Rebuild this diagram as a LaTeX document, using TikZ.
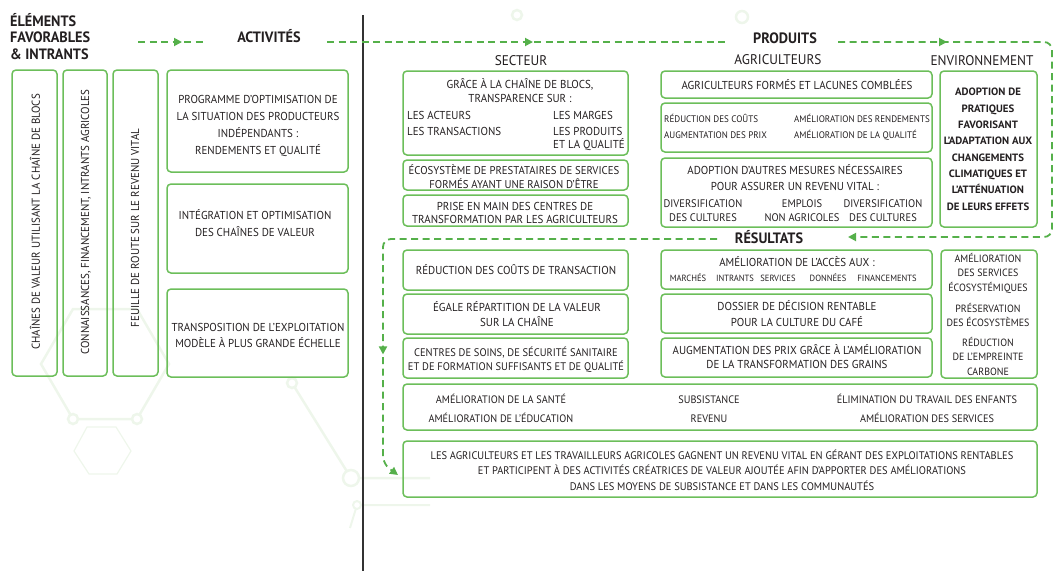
\documentclass[tikz,border=0pt]{standalone}
\usepackage{fontspec}
\setmainfont[FakeStretch=0.95]{PT Sans}
\newfontfamily\wfont[FakeStretch=1.02]{PT Sans}
\usetikzlibrary{arrows.meta,decorations.markings}
\definecolor{boxg}{HTML}{6CBE5A}
\definecolor{flowg}{HTML}{55B04A}
\definecolor{bgg}{HTML}{EEF6EB}
\definecolor{txt}{HTML}{231F20}
\definecolor{divc}{HTML}{333333}
\newcommand\bx[5]{\node[box,anchor=north west,minimum width={(#4-#2)*1pt},minimum height={(#5-#3)*1pt}] (#1) at (#2,#3) {};}
\tikzset{
  box/.style={draw=boxg, line width=1.5pt, rounded corners=4pt, inner sep=0pt, outer sep=0pt},
  fs/.style 2 args={font=\fontsize{#1}{#2}\selectfont},
  tx/.style={text=txt, align=center, inner sep=0pt, fs={11.5}{17}},
  hd/.style={text=txt, inner sep=0pt, font=\bfseries\fontsize{15}{16.5}\selectfont},
  subhd/.style={text=txt, inner sep=0pt, fs={14}{16}},
  flow/.style={color=flowg, line width=1.8pt, dash pattern=on 7pt off 4.5pt, rounded corners=8pt},
  midarr/.style={postaction={decorate}, decoration={markings, mark=at position #1 with {\arrow{Triangle[width=8pt,length=8pt]}}}},
  deco/.style={draw=bgg, line width=2.5pt},
  ring/.style={draw=bgg, line width=2.5pt, fill=white},
}
\begin{document}
\begin{tikzpicture}[x=1pt,y=-1pt]
\useasboundingbox (0,0) rectangle (1053,571);
% faint background decoration
\draw[deco] (169,364) -- (137,419) -- (73,419) -- (41,364) -- (73,309) -- (137,309) -- cycle;
\draw[ring] (73,419) circle (5); \draw[ring] (137,419) circle (5);
\draw[draw=bgg, line width=1.2pt] (87,427) -- (116,427) -- (131,451) -- (117,474) -- (89,474) -- (74,451) -- cycle;
\draw[deco] (292,383) -- (351,478) -- (430,478);
\draw[ring] (292,383) circle (5); \draw[ring] (351,478) circle (8);
\draw[draw=bgg, line width=2pt] (350,528) -- (357,505) -- (430,505);
\draw[ring, line width=2pt] (357,505) circle (4);
\draw[ring] (517,15) circle (5); \draw[ring] (742,17) circle (6);

% divider
\draw[divc, line width=1.8pt] (363,15) -- (363,571);

% headers
\node[hd, anchor=base west, align=left] (elem) at (10,59) {ÉLÉMENTS\\FAVORABLES\\\& INTRANTS};
\node[hd, anchor=base] (act) at (269,42) {ACTIVITÉS};
\node[hd, anchor=base] (prod) at (785,43) {PRODUITS};
\node[hd, anchor=base] (res) at (769,243) {RÉSULTATS};
\node[subhd, anchor=base] (sect) at (521,65) {SECTEUR};
\node[subhd, anchor=base] (agri) at (778,64) {AGRICULTEURS};
\node[subhd, anchor=base] (envi) at (982,65) {ENVIRONNEMENT};

% flow lines
\coordinate (f1a) at (138,42); \coordinate (f1b) at (207,42);
\coordinate (f2a) at (327,42); \coordinate (f2b) at (728,42);
\coordinate (f3a) at (838,42); \coordinate (f3c1) at (1052,42); \coordinate (f3c2) at (1052,237); \coordinate (f3b) at (848,237);
\coordinate (f4a) at (717,239); \coordinate (f4c1) at (383,239); \coordinate (f4c2) at (383,464); \coordinate (f4b) at (398,475);
\draw[flow, midarr=44pt] (f1a) -- (f1b);
\draw[flow, midarr=206pt] (f2a) -- (f2b);
\draw[flow, midarr=109pt, -{Triangle[width=8pt,length=8pt]}] (f3a) -- (f3c1) -- (f3c2) -- (f3b);
\draw[flow, midarr=446pt, -{Triangle[width=8pt,length=8pt]}] (f4a) -- (f4c1) -- (f4c2) -- (f4b);

% left column boxes
\bx{l1}{12}{70}{57}{376}
\bx{l2}{63}{70}{107}{376}
\bx{l3}{113}{70}{158}{376}
\node[tx, rotate=90] (l1t) at (35,222) {CHAÎNES DE VALEUR UTILISANT LA CHAÎNE DE BLOCS};
\node[tx, rotate=90] (l2t) at (86,222) {CONNAISSANCES, FINANCEMENT, INTRANTS AGRICOLES};
\node[tx, rotate=90] (l3t) at (135,228) {FEUILLE DE ROUTE SUR LE REVENU VITAL};

% activities
\bx{a1}{167}{70}{348}{172}
\bx{a2}{167}{184}{348}{273}
\bx{a3}{167}{289}{348}{377}
\node[tx, anchor=base] (a1t) at (258,154) {PROGRAMME D’OPTIMISATION DE\\LA SITUATION DES PRODUCTEURS\\INDÉPENDANTS :\\RENDEMENTS ET QUALITÉ};
\node[tx, anchor=base] (a2t) at (255,236) {INTÉGRATION ET OPTIMISATION\\DES CHAÎNES DE VALEUR};
\node[tx, anchor=base, fs={11.5}{16}] (a3t) at (258,347) {TRANSPOSITION DE L’EXPLOITATION\\MODÈLE À PLUS GRANDE ÉCHELLE};

% secteur
\bx{s1}{403}{71}{628}{155}
\bx{s2}{403}{160}{628}{190}
\bx{s3}{403}{195}{628}{226}
\node[tx, anchor=base, fs={11.5}{14}] (s1t) at (520,102) {GRÂCE À LA CHAÎNE DE BLOCS,\\TRANSPARENCE SUR :};
\node[tx, anchor=base west, align=left, fs={11.5}{16}] (s1a) at (407,135) {LES ACTEURS\\LES TRANSACTIONS};
\node[tx, anchor=base west, align=left, fs={11.5}{13}] (s1b) at (553,148) {LES MARGES\\[3pt]LES PRODUITS\\ET LA QUALITÉ};
\node[tx, anchor=base, fs={11.3}{14}] (s2t) at (514,188) {ÉCOSYSTÈME DE PRESTATAIRES DE SERVICES\\FORMÉS AYANT UNE RAISON D’ÊTRE};
\node[tx, anchor=base, fs={11.5}{13.5}] (s3t) at (515,223.5) {PRISE EN MAIN DES CENTRES DE\\TRANSFORMATION PAR LES AGRICULTEURS};

% agriculteurs
\bx{g1}{661}{71}{932}{98}
\bx{g2}{661}{103}{932}{152}
\bx{g3}{661}{158}{932}{227}
\node[tx, anchor=base] (g1t) at (797,89) {AGRICULTEURS FORMÉS ET LACUNES COMBLÉES};
\node[tx, anchor=base west, align=left, fs={9.5}{16}] (g2a) at (664,138) {RÉDUCTION DES COÛTS\\AUGMENTATION DES PRIX};
\node[tx, anchor=base west, align=left, fs={9.5}{16}] (g2b) at (794,138) {AMÉLIORATION DES RENDEMENTS\\AMÉLIORATION DE LA QUALITÉ};
\node[tx, anchor=base, fs={11.5}{16}] (g3t) at (795,190) {ADOPTION D’AUTRES MESURES NÉCESSAIRES\\POUR ASSURER UN REVENU VITAL :};
\node[tx, anchor=base, fs={11}{14}] (g3a) at (703,221) {DIVERSIFICATION\\DES CULTURES};
\node[tx, anchor=base, fs={11}{14}] (g3b) at (802,221) {EMPLOIS\\NON AGRICOLES};
\node[tx, anchor=base, fs={11}{14}] (g3c) at (883,221) {DIVERSIFICATION\\DES CULTURES};

% environnement
\bx{e1}{940}{71}{1037}{227}
\node[tx, anchor=base, font=\wfont\bfseries\fontsize{10.6}{16.3}\selectfont] (e1t) at (988,210) {ADOPTION DE\\PRATIQUES\\FAVORISANT\\L’ADAPTATION AUX\\CHANGEMENTS\\CLIMATIQUES ET\\L’ATTÉNUATION\\DE LEURS EFFETS};

% résultats - secteur
\bx{r1}{403}{250}{628}{290}
\bx{r2}{403}{294}{628}{334}
\bx{r3}{403}{338}{628}{378}
\node[tx, anchor=base] (r1t) at (516,274) {RÉDUCTION DES COÛTS DE TRANSACTION};
\node[tx, anchor=base, fs={11.5}{15}] (r2t) at (517,326) {ÉGALE RÉPARTITION DE LA VALEUR\\SUR LA CHAÎNE};
\node[tx, anchor=base, fs={11}{14}] (r3t) at (516,370) {CENTRES DE SOINS, DE SÉCURITÉ SANITAIRE\\ET DE FORMATION SUFFISANTS ET DE QUALITÉ};

% résultats - agriculteurs
\bx{m1}{661}{250}{932}{289}
\bx{m2}{661}{294}{932}{333}
\bx{m3}{661}{338}{932}{377}
\node[tx, anchor=base] (m1t) at (797,266) {AMÉLIORATION DE L’ACCÈS AUX :};
\node[tx, anchor=base, fs={9}{10}] (m1a) at (688,281) {MARCHÉS};
\node[tx, anchor=base, fs={9}{10}] (m1b) at (735,281) {INTRANTS};
\node[tx, anchor=base, fs={9}{10}] (m1c) at (778,281) {SERVICES};
\node[tx, anchor=base, fs={9}{10}] (m1d) at (828,281) {DONNÉES};
\node[tx, anchor=base, fs={9}{10}] (m1e) at (887,281) {FINANCEMENTS};
\node[tx, anchor=base, fs={11.5}{16}] (m2t) at (797,326) {DOSSIER DE DÉCISION RENTABLE\\POUR LA CULTURE DU CAFÉ};
\node[tx, anchor=base, fs={11.5}{14.5}] (m3t) at (797,368.5) {AUGMENTATION DES PRIX GRÂCE À L’AMÉLIORATION\\DE LA TRANSFORMATION DES GRAINS};

% résultats - environnement
\bx{re}{941}{250}{1037}{378}
\node[tx, anchor=base, fs={10.5}{14.5}] (re1) at (988,291) {AMÉLIORATION\\DES SERVICES\\ÉCOSYSTÉMIQUES};
\node[tx, anchor=base, fs={10.5}{14.5}] (re2) at (988,326.5) {PRÉSERVATION\\DES ÉCOSYSTÈMES};
\node[tx, anchor=base, fs={10.5}{14.5}] (re3) at (988,375) {RÉDUCTION\\DE L’EMPREINTE\\CARBONE};

% bottom boxes
\bx{b1}{403}{384}{1037}{430}
\bx{b2}{403}{441}{1037}{497}
\node[tx, anchor=base, fs={10.8}{19}] (b1a) at (501,422) {AMÉLIORATION DE LA SANTÉ\\AMÉLIORATION DE L’ÉDUCATION};
\node[tx, anchor=base, fs={10.8}{19}] (b1b) at (709,422) {SUBSISTANCE\\REVENU};
\node[tx, anchor=base, fs={10.8}{19}] (b1c) at (927,422) {ÉLIMINATION DU TRAVAIL DES ENFANTS\\AMÉLIORATION DES SERVICES};
\node[tx, anchor=base, fs={11}{15.5}] (b2t) at (722,490) {LES AGRICULTEURS ET LES TRAVAILLEURS AGRICOLES GAGNENT UN REVENU VITAL EN GÉRANT DES EXPLOITATIONS RENTABLES\\ET PARTICIPENT À DES ACTIVITÉS CRÉATRICES DE VALEUR AJOUTÉE AFIN D’APPORTER DES AMÉLIORATIONS\\DANS LES MOYENS DE SUBSISTANCE ET DANS LES COMMUNAUTÉS};
\end{tikzpicture}
\end{document}
